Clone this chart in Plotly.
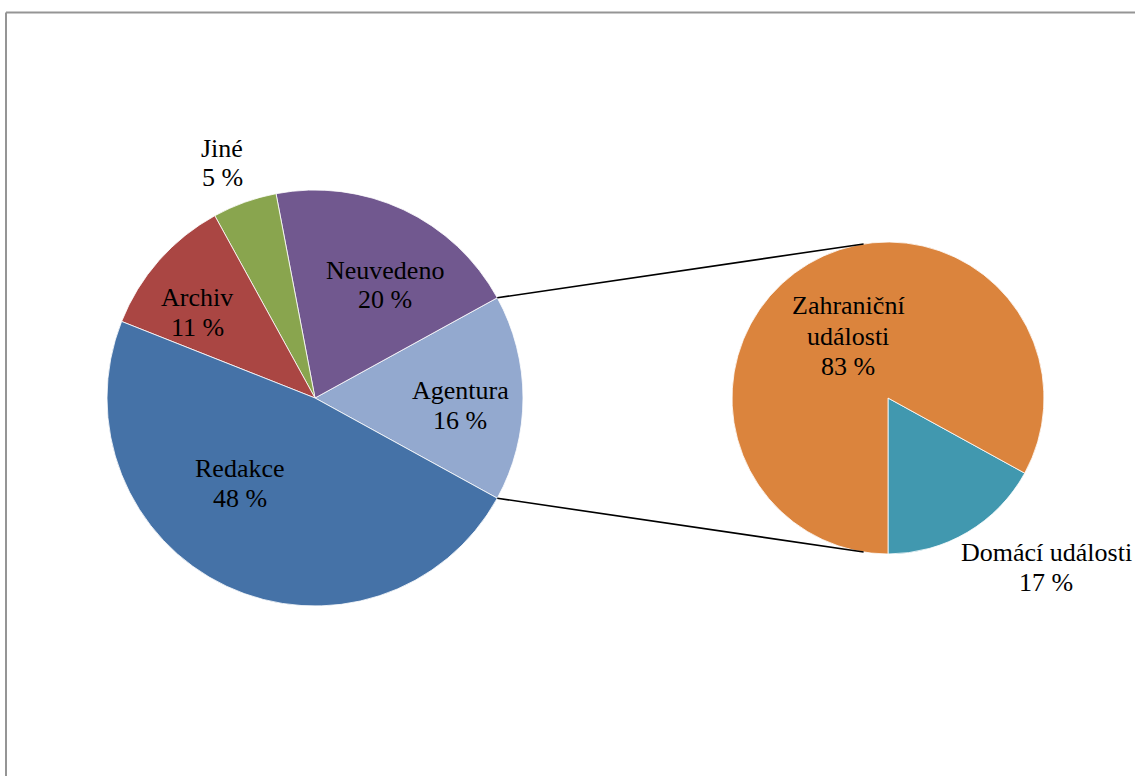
import math
import plotly.graph_objects as go

# Main pie: source of articles (share in %)
main_labels = ["Agentura", "Neuvedeno", "Jiné", "Archiv", "Redakce"]
main_values = [16, 20, 5, 11, 48]
main_colors = ["#93A9CF", "#71588F", "#89A54E", "#AA4643", "#4572A7"]

# Secondary pie: breakdown of the "Agentura" slice
sub_labels = ["Domácí události", "Zahraniční události"]
sub_values = [17, 83]
sub_colors = ["#4198AF", "#DB843D"]

W, H = 1135, 776
FONT = "Liberation Serif, Times New Roman, serif"
FS = 26

# pixel geometry of the two pies
L_CX, L_CY, L_R = 315, 398, 208
R_CX, R_CY, R_R = 888, 398, 156


def px(x):
    return x / W


def py(y):
    return 1 - y / H


def domain(cx, cy, r):
    return dict(x=[px(cx - r), px(cx + r)], y=[py(cy + r), py(cy - r)])


# the exploded slice is centred on 3 o'clock
half = main_values[0] / sum(main_values) * 180.0
sub_span = sub_values[0] / sum(sub_values) * 360.0

# with counterclockwise direction, plotly puts the first slice clockwise of
# the rotation angle (measured clockwise from 12 o'clock)
fig = go.Figure()
fig.add_trace(go.Pie(
    labels=main_labels, values=main_values, sort=False,
    direction="counterclockwise", rotation=90 - half,
    marker=dict(colors=main_colors, line=dict(color="white", width=0.8)),
    textinfo="none", hoverinfo="label+percent",
    domain=domain(L_CX, L_CY, L_R), showlegend=False,
))
fig.add_trace(go.Pie(
    labels=sub_labels, values=sub_values, sort=False,
    direction="counterclockwise", rotation=180 - sub_span,
    marker=dict(colors=sub_colors, line=dict(color="white", width=0.8)),
    textinfo="none", hoverinfo="label+percent",
    domain=domain(R_CX, R_CY, R_R), showlegend=False,
))

# connector lines from the edges of the exploded slice to the second pie
shapes = []
conn_angle = 99.0
for sgn in (1, -1):
    a = math.radians(sgn * half)
    x0 = L_CX + L_R * math.cos(a)
    y0 = L_CY - L_R * math.sin(a)
    b = math.radians(sgn * conn_angle)
    x1 = R_CX + R_R * math.cos(b)
    y1 = R_CY - R_R * math.sin(b)
    shapes.append(dict(type="line", xref="paper", yref="paper",
                       x0=px(x0), y0=py(y0), x1=px(x1), y1=py(y1),
                       line=dict(color="black", width=1.6)))

# chart-area frame (top and left edges visible)
frame = dict(color="#959595", width=2)
shapes.append(dict(type="line", xref="paper", yref="paper",
                   x0=px(6), y0=py(12.5), x1=px(W + 5), y1=py(12.5), line=frame))
shapes.append(dict(type="line", xref="paper", yref="paper",
                   x0=px(6), y0=py(12.5), x1=px(6), y1=py(H + 5), line=frame))

# label placement (pixel centres of each text line)
label_pos = {
    "Agentura": (460, [390, 420]),
    "Neuvedeno": (385, [270, 299]),
    "Jiné": (222, [148, 178]),
    "Archiv": (197, [297, 327]),
    "Redakce": (240, [469, 498]),
    "Zahraniční události": (848, [306, 336, 366]),
    "Domácí události": (1046, [552, 582]),
}
label_lines = {
    "Zahraniční události": ["Zahraniční", "události"],
}

annotations = []
for name, val in list(zip(main_labels, main_values)) + list(zip(sub_labels, sub_values)):
    x, ys = label_pos[name]
    lines = label_lines.get(name, [name]) + [f"{val} %"]
    for text, y in zip(lines, ys):
        annotations.append(dict(
            x=px(x), y=py(y), xref="paper", yref="paper",
            text=text, showarrow=False, xanchor="center", yanchor="middle",
            font=dict(family=FONT, size=FS, color="black"),
        ))

fig.update_layout(
    width=W, height=H,
    margin=dict(l=0, r=0, t=0, b=0),
    paper_bgcolor="white", plot_bgcolor="white",
    shapes=shapes, annotations=annotations,
)

fig.write_html("out.html")
